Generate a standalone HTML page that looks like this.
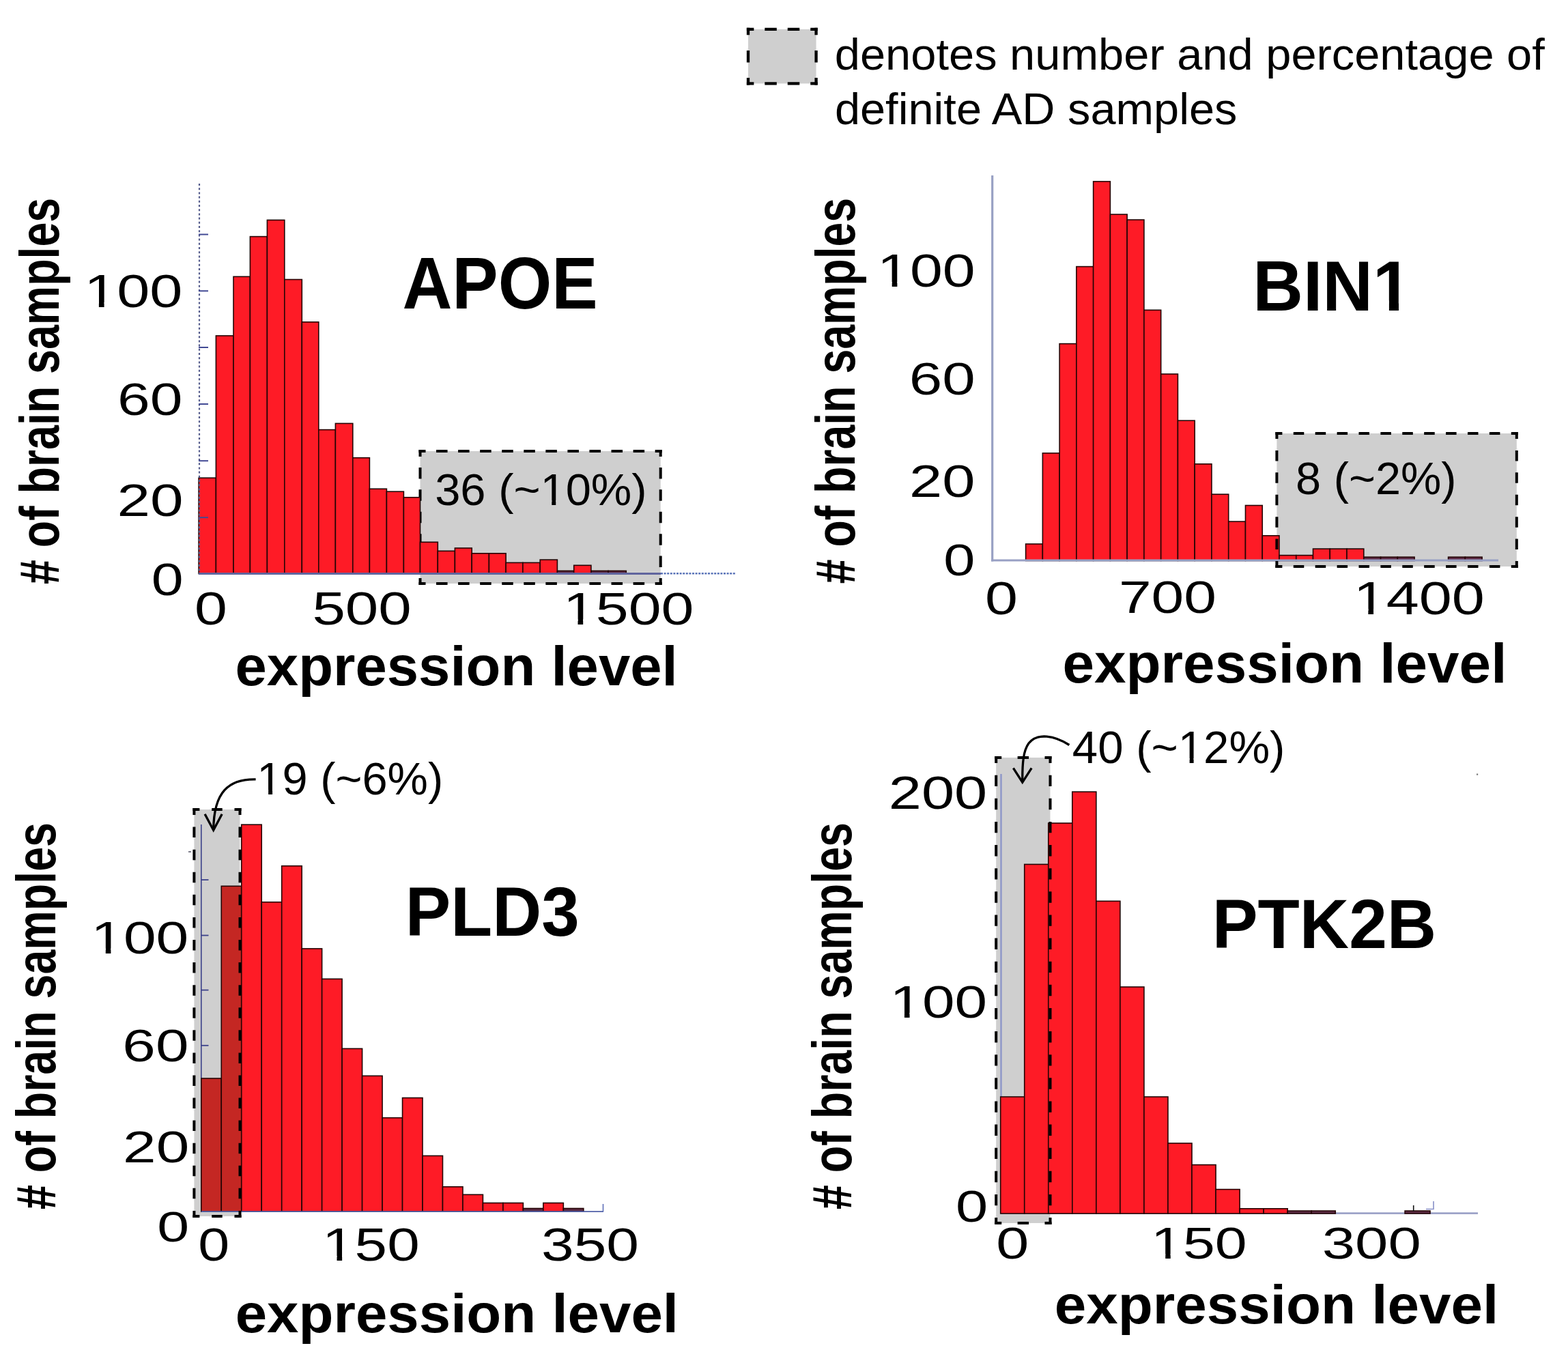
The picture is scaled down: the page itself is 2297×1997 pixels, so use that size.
<!DOCTYPE html>
<html><head><meta charset="utf-8"><title>Expression histograms</title>
<style>
html,body{margin:0;padding:0;background:#fff;}
svg{display:block;}
text{font-family:"Liberation Sans",Arial,sans-serif;font-size:100px;fill:#000;}
text.b{font-weight:bold;}
</style></head><body>
<svg width="2297" height="1997" viewBox="0 0 2297 1997">
<rect width="2297" height="1997" fill="#fff"/>
<rect x="1096.00" y="42.90" width="99.60" height="79.50" fill="#cfcfcf"/>
<line x1="1093.85" y1="42.90" x2="1197.75" y2="42.90" stroke="#000" stroke-width="4.3" stroke-dasharray="10.50 15.97 17.50 15.97 17.50 15.97 10.50 0.00"/>
<line x1="1093.85" y1="122.40" x2="1197.75" y2="122.40" stroke="#000" stroke-width="4.3" stroke-dasharray="10.50 15.97 17.50 15.97 17.50 15.97 10.50 0.00"/>
<line x1="1096.00" y1="40.75" x2="1096.00" y2="124.55" stroke="#000" stroke-width="4.3" stroke-dasharray="10.50 22.65 17.50 22.65 10.50 0.00"/>
<line x1="1195.60" y1="40.75" x2="1195.60" y2="124.55" stroke="#000" stroke-width="4.3" stroke-dasharray="10.50 22.65 17.50 22.65 10.50 0.00"/>
<rect x="615.50" y="661.00" width="352.20" height="194.00" fill="#cfcfcf"/>
<line x1="613.50" y1="661.00" x2="969.70" y2="661.00" stroke="#000" stroke-width="4" stroke-dasharray="10.00 15.56 16.50 15.56 16.50 15.56 16.50 15.56 16.50 15.56 16.50 15.56 16.50 15.56 16.50 15.56 16.50 15.56 16.50 15.56 16.50 15.56 10.00 0.00"/>
<line x1="613.50" y1="855.00" x2="969.70" y2="855.00" stroke="#000" stroke-width="4" stroke-dasharray="10.00 15.56 16.50 15.56 16.50 15.56 16.50 15.56 16.50 15.56 16.50 15.56 16.50 15.56 16.50 15.56 16.50 15.56 16.50 15.56 16.50 15.56 10.00 0.00"/>
<line x1="615.50" y1="659.00" x2="615.50" y2="857.00" stroke="#000" stroke-width="4" stroke-dasharray="10.00 15.92 16.50 15.92 16.50 15.92 16.50 15.92 16.50 15.92 16.50 15.92 10.00 0.00"/>
<line x1="967.70" y1="659.00" x2="967.70" y2="857.00" stroke="#000" stroke-width="4" stroke-dasharray="10.00 15.92 16.50 15.92 16.50 15.92 16.50 15.92 16.50 15.92 16.50 15.92 10.00 0.00"/>
<rect x="291.10" y="700.20" width="25.30" height="140.30" fill="#fe1b26" stroke="#250505" stroke-width="1.6"/>
<rect x="316.40" y="491.90" width="25.60" height="348.60" fill="#fe1b26" stroke="#250505" stroke-width="1.6"/>
<rect x="342.00" y="405.30" width="24.40" height="435.20" fill="#fe1b26" stroke="#250505" stroke-width="1.6"/>
<rect x="366.40" y="346.60" width="25.00" height="493.90" fill="#fe1b26" stroke="#250505" stroke-width="1.6"/>
<rect x="391.40" y="322.40" width="25.40" height="518.10" fill="#fe1b26" stroke="#250505" stroke-width="1.6"/>
<rect x="416.80" y="409.50" width="25.50" height="431.00" fill="#fe1b26" stroke="#250505" stroke-width="1.6"/>
<rect x="442.30" y="471.80" width="24.50" height="368.70" fill="#fe1b26" stroke="#250505" stroke-width="1.6"/>
<rect x="466.80" y="629.60" width="24.60" height="210.90" fill="#fe1b26" stroke="#250505" stroke-width="1.6"/>
<rect x="491.40" y="620.40" width="25.40" height="220.10" fill="#fe1b26" stroke="#250505" stroke-width="1.6"/>
<rect x="516.80" y="670.70" width="24.60" height="169.80" fill="#fe1b26" stroke="#250505" stroke-width="1.6"/>
<rect x="541.40" y="716.25" width="25.00" height="124.25" fill="#fe1b26" stroke="#250505" stroke-width="1.6"/>
<rect x="566.40" y="720.20" width="25.00" height="120.30" fill="#fe1b26" stroke="#250505" stroke-width="1.6"/>
<rect x="591.40" y="728.75" width="24.10" height="111.75" fill="#fe1b26" stroke="#250505" stroke-width="1.6"/>
<rect x="615.50" y="794.30" width="25.80" height="46.20" fill="#fe1b26" stroke="#250505" stroke-width="1.6"/>
<rect x="641.30" y="807.30" width="25.10" height="33.20" fill="#fe1b26" stroke="#250505" stroke-width="1.6"/>
<rect x="666.40" y="803.00" width="24.80" height="37.50" fill="#fe1b26" stroke="#250505" stroke-width="1.6"/>
<rect x="691.20" y="810.80" width="25.20" height="29.70" fill="#fe1b26" stroke="#250505" stroke-width="1.6"/>
<rect x="716.40" y="810.80" width="24.70" height="29.70" fill="#fe1b26" stroke="#250505" stroke-width="1.6"/>
<rect x="741.10" y="824.40" width="24.80" height="16.10" fill="#fe1b26" stroke="#250505" stroke-width="1.6"/>
<rect x="765.90" y="824.40" width="25.30" height="16.10" fill="#fe1b26" stroke="#250505" stroke-width="1.6"/>
<rect x="791.20" y="820.10" width="25.20" height="20.40" fill="#fe1b26" stroke="#250505" stroke-width="1.6"/>
<rect x="816.40" y="836.40" width="24.30" height="4.10" fill="#5c2a44" stroke="#250505" stroke-width="1.6"/>
<rect x="840.70" y="828.30" width="25.20" height="12.20" fill="#fe1b26" stroke="#250505" stroke-width="1.6"/>
<rect x="865.90" y="836.40" width="25.20" height="4.10" fill="#5c2a44" stroke="#250505" stroke-width="1.6"/>
<rect x="891.10" y="836.40" width="26.20" height="4.10" fill="#5c2a44" stroke="#250505" stroke-width="1.6"/>
<line x1="291" y1="840.5" x2="968" y2="840.5" stroke="#60659e" stroke-width="2.8"/>
<line x1="968" y1="840.2" x2="1077" y2="840.2" stroke="#5a74b8" stroke-width="2.6" stroke-dasharray="3 1.6"/>
<line x1="292" y1="269" x2="292" y2="841" stroke="#555c8c" stroke-width="2.2" stroke-dasharray="3 3.2"/>
<line x1="291" y1="343.5" x2="305" y2="343.5" stroke="#424a94" stroke-width="2"/>
<line x1="291" y1="426.3" x2="305" y2="426.3" stroke="#424a94" stroke-width="2"/>
<line x1="291" y1="509" x2="305" y2="509" stroke="#424a94" stroke-width="2"/>
<line x1="291" y1="592" x2="305" y2="592" stroke="#424a94" stroke-width="2"/>
<line x1="291" y1="675.2" x2="305" y2="675.2" stroke="#424a94" stroke-width="2"/>
<line x1="291" y1="758.2" x2="305" y2="758.2" stroke="#424a94" stroke-width="2"/>
<rect x="1870.40" y="635.00" width="351.40" height="195.00" fill="#cfcfcf"/>
<rect x="1502.60" y="797.00" width="24.76" height="24.50" fill="#fe1b26" stroke="#250505" stroke-width="1.6"/>
<rect x="1527.36" y="663.90" width="24.76" height="157.60" fill="#fe1b26" stroke="#250505" stroke-width="1.6"/>
<rect x="1552.12" y="503.60" width="24.76" height="317.90" fill="#fe1b26" stroke="#250505" stroke-width="1.6"/>
<rect x="1576.88" y="390.60" width="24.76" height="430.90" fill="#fe1b26" stroke="#250505" stroke-width="1.6"/>
<rect x="1601.64" y="265.90" width="24.76" height="555.60" fill="#fe1b26" stroke="#250505" stroke-width="1.6"/>
<rect x="1626.40" y="314.10" width="24.76" height="507.40" fill="#fe1b26" stroke="#250505" stroke-width="1.6"/>
<rect x="1651.16" y="322.00" width="24.76" height="499.50" fill="#fe1b26" stroke="#250505" stroke-width="1.6"/>
<rect x="1675.92" y="454.30" width="24.76" height="367.20" fill="#fe1b26" stroke="#250505" stroke-width="1.6"/>
<rect x="1700.68" y="548.00" width="24.76" height="273.50" fill="#fe1b26" stroke="#250505" stroke-width="1.6"/>
<rect x="1725.44" y="616.20" width="24.76" height="205.30" fill="#fe1b26" stroke="#250505" stroke-width="1.6"/>
<rect x="1750.20" y="679.80" width="24.76" height="141.70" fill="#fe1b26" stroke="#250505" stroke-width="1.6"/>
<rect x="1774.96" y="724.20" width="24.76" height="97.30" fill="#fe1b26" stroke="#250505" stroke-width="1.6"/>
<rect x="1799.72" y="764.10" width="24.76" height="57.40" fill="#fe1b26" stroke="#250505" stroke-width="1.6"/>
<rect x="1824.48" y="740.50" width="24.76" height="81.00" fill="#fe1b26" stroke="#250505" stroke-width="1.6"/>
<rect x="1849.24" y="784.80" width="24.76" height="36.70" fill="#fe1b26" stroke="#250505" stroke-width="1.6"/>
<rect x="1874.00" y="813.60" width="24.76" height="7.90" fill="#fe1b26" stroke="#250505" stroke-width="1.6"/>
<rect x="1898.76" y="813.60" width="24.76" height="7.90" fill="#fe1b26" stroke="#250505" stroke-width="1.6"/>
<rect x="1923.52" y="804.10" width="24.76" height="17.40" fill="#fe1b26" stroke="#250505" stroke-width="1.6"/>
<rect x="1948.28" y="804.10" width="24.76" height="17.40" fill="#fe1b26" stroke="#250505" stroke-width="1.6"/>
<rect x="1973.04" y="804.10" width="24.76" height="17.40" fill="#fe1b26" stroke="#250505" stroke-width="1.6"/>
<rect x="1997.80" y="816.20" width="24.76" height="5.30" fill="#5c2a44" stroke="#250505" stroke-width="1.6"/>
<rect x="2022.56" y="816.20" width="24.76" height="5.30" fill="#5c2a44" stroke="#250505" stroke-width="1.6"/>
<rect x="2047.32" y="816.20" width="24.76" height="5.30" fill="#5c2a44" stroke="#250505" stroke-width="1.6"/>
<rect x="2121.60" y="816.20" width="24.76" height="5.30" fill="#5c2a44" stroke="#250505" stroke-width="1.6"/>
<rect x="2146.36" y="816.20" width="24.76" height="5.30" fill="#5c2a44" stroke="#250505" stroke-width="1.6"/>
<line x1="1452" y1="821.0" x2="2195" y2="821.0" stroke="#98a0c4" stroke-width="3.2"/>
<line x1="1453.7" y1="257" x2="1453.7" y2="822.5" stroke="#98a0c4" stroke-width="3.2"/>
<line x1="1868.40" y1="635.00" x2="2223.80" y2="635.00" stroke="#000" stroke-width="4" stroke-dasharray="10.00 16.40 15.50 16.40 15.50 16.40 15.50 16.40 15.50 16.40 15.50 16.40 15.50 16.40 15.50 16.40 15.50 16.40 15.50 16.40 15.50 16.40 10.00 0.00"/>
<line x1="1868.40" y1="830.00" x2="2223.80" y2="830.00" stroke="#000" stroke-width="4" stroke-dasharray="10.00 16.40 15.50 16.40 15.50 16.40 15.50 16.40 15.50 16.40 15.50 16.40 15.50 16.40 15.50 16.40 15.50 16.40 15.50 16.40 15.50 16.40 10.00 0.00"/>
<line x1="1870.40" y1="633.00" x2="1870.40" y2="832.00" stroke="#000" stroke-width="4" stroke-dasharray="10.00 16.92 15.50 16.92 15.50 16.92 15.50 16.92 15.50 16.92 15.50 16.92 10.00 0.00"/>
<line x1="2221.80" y1="633.00" x2="2221.80" y2="832.00" stroke="#000" stroke-width="4" stroke-dasharray="10.00 16.92 15.50 16.92 15.50 16.92 15.50 16.92 15.50 16.92 15.50 16.92 10.00 0.00"/>
<rect x="284.40" y="1186.00" width="67.10" height="596.00" fill="#cfcfcf"/>
<line x1="294.8" y1="1208" x2="294.8" y2="1776" stroke="#3c428a" stroke-width="1.6"/>
<line x1="294.8" y1="1289.1" x2="305.5" y2="1289.1" stroke="#3c428a" stroke-width="1.8"/>
<line x1="294.8" y1="1370.5" x2="305.5" y2="1370.5" stroke="#3c428a" stroke-width="1.8"/>
<line x1="294.8" y1="1450.6" x2="305.5" y2="1450.6" stroke="#3c428a" stroke-width="1.8"/>
<line x1="294.8" y1="1531.8" x2="305.5" y2="1531.8" stroke="#3c428a" stroke-width="1.8"/>
<rect x="294.80" y="1580.00" width="29.47" height="195.20" fill="#c42723" stroke="#250505" stroke-width="1.6"/>
<rect x="324.27" y="1298.30" width="29.47" height="476.90" fill="#c42723" stroke="#250505" stroke-width="1.6"/>
<rect x="353.75" y="1208.20" width="29.47" height="567.00" fill="#fe1b26" stroke="#250505" stroke-width="1.6"/>
<rect x="383.22" y="1321.70" width="29.47" height="453.50" fill="#fe1b26" stroke="#250505" stroke-width="1.6"/>
<rect x="412.70" y="1268.70" width="29.47" height="506.50" fill="#fe1b26" stroke="#250505" stroke-width="1.6"/>
<rect x="442.17" y="1389.90" width="29.47" height="385.30" fill="#fe1b26" stroke="#250505" stroke-width="1.6"/>
<rect x="471.64" y="1434.30" width="29.47" height="340.90" fill="#fe1b26" stroke="#250505" stroke-width="1.6"/>
<rect x="501.12" y="1536.40" width="29.47" height="238.80" fill="#fe1b26" stroke="#250505" stroke-width="1.6"/>
<rect x="530.59" y="1576.30" width="29.47" height="198.90" fill="#fe1b26" stroke="#250505" stroke-width="1.6"/>
<rect x="560.07" y="1637.70" width="29.47" height="137.50" fill="#fe1b26" stroke="#250505" stroke-width="1.6"/>
<rect x="589.54" y="1608.50" width="29.47" height="166.70" fill="#fe1b26" stroke="#250505" stroke-width="1.6"/>
<rect x="619.01" y="1693.40" width="29.47" height="81.80" fill="#fe1b26" stroke="#250505" stroke-width="1.6"/>
<rect x="648.49" y="1738.80" width="29.47" height="36.40" fill="#fe1b26" stroke="#250505" stroke-width="1.6"/>
<rect x="677.96" y="1750.30" width="29.47" height="24.90" fill="#fe1b26" stroke="#250505" stroke-width="1.6"/>
<rect x="707.44" y="1762.50" width="29.47" height="12.70" fill="#fe1b26" stroke="#250505" stroke-width="1.6"/>
<rect x="736.91" y="1762.50" width="29.47" height="12.70" fill="#fe1b26" stroke="#250505" stroke-width="1.6"/>
<rect x="766.38" y="1770.50" width="29.47" height="4.70" fill="#5c2a44" stroke="#250505" stroke-width="1.6"/>
<rect x="795.86" y="1762.50" width="29.47" height="12.70" fill="#fe1b26" stroke="#250505" stroke-width="1.6"/>
<rect x="825.33" y="1770.50" width="29.47" height="4.70" fill="#5c2a44" stroke="#250505" stroke-width="1.6"/>
<line x1="294.8" y1="1775.2" x2="884" y2="1775.2" stroke="#5060a8" stroke-width="1.8"/>
<line x1="883.5" y1="1764" x2="883.5" y2="1775.2" stroke="#6070b8" stroke-width="1.6"/>
<line x1="276" y1="1248" x2="280" y2="1248" stroke="#556" stroke-width="1.5"/>
<line x1="282.40" y1="1186.00" x2="353.50" y2="1186.00" stroke="#000" stroke-width="4" stroke-dasharray="10.00 17.80 15.50 17.80 10.00 0.00"/>
<line x1="282.40" y1="1782.00" x2="353.50" y2="1782.00" stroke="#000" stroke-width="4" stroke-dasharray="10.00 17.80 15.50 17.80 10.00 0.00"/>
<line x1="284.40" y1="1184.00" x2="284.40" y2="1784.00" stroke="#000" stroke-width="4" stroke-dasharray="10.00 17.58 15.50 17.58 15.50 17.58 15.50 17.58 15.50 17.58 15.50 17.58 15.50 17.58 15.50 17.58 15.50 17.58 15.50 17.58 15.50 17.58 15.50 17.58 15.50 17.58 15.50 17.58 15.50 17.58 15.50 17.58 15.50 17.58 15.50 17.58 10.00 0.00"/>
<line x1="351.50" y1="1184.00" x2="351.50" y2="1784.00" stroke="#000" stroke-width="4" stroke-dasharray="10.00 17.58 15.50 17.58 15.50 17.58 15.50 17.58 15.50 17.58 15.50 17.58 15.50 17.58 15.50 17.58 15.50 17.58 15.50 17.58 15.50 17.58 15.50 17.58 15.50 17.58 15.50 17.58 15.50 17.58 15.50 17.58 15.50 17.58 15.50 17.58 10.00 0.00"/>
<path d="M374.6 1141.8 C335 1141 313 1160 312.7 1216" fill="none" stroke="#000" stroke-width="3.3"/>
<path d="M300.1 1192.8 L312.7 1216.3 L325.2 1192.8" fill="none" stroke="#000" stroke-width="3.3" stroke-linejoin="miter"/>
<rect x="1459.20" y="1110.00" width="79.30" height="682.00" fill="#cfcfcf"/>
<line x1="1466.5" y1="1134" x2="1466.5" y2="1778" stroke="#8c96c8" stroke-width="2.4"/>
<line x1="1466" y1="1777.6" x2="2165" y2="1777.6" stroke="#9da3c8" stroke-width="2.8"/>
<rect x="1465.70" y="1607.00" width="35.04" height="171.00" fill="#fe1b26" stroke="#250505" stroke-width="1.6"/>
<rect x="1500.74" y="1266.40" width="35.04" height="511.60" fill="#fe1b26" stroke="#250505" stroke-width="1.6"/>
<rect x="1535.78" y="1206.00" width="35.04" height="572.00" fill="#fe1b26" stroke="#250505" stroke-width="1.6"/>
<rect x="1570.82" y="1160.10" width="35.04" height="617.90" fill="#fe1b26" stroke="#250505" stroke-width="1.6"/>
<rect x="1605.86" y="1320.30" width="35.04" height="457.70" fill="#fe1b26" stroke="#250505" stroke-width="1.6"/>
<rect x="1640.90" y="1446.00" width="35.04" height="332.00" fill="#fe1b26" stroke="#250505" stroke-width="1.6"/>
<rect x="1675.94" y="1607.00" width="35.04" height="171.00" fill="#fe1b26" stroke="#250505" stroke-width="1.6"/>
<rect x="1710.98" y="1675.00" width="35.04" height="103.00" fill="#fe1b26" stroke="#250505" stroke-width="1.6"/>
<rect x="1746.02" y="1706.60" width="35.04" height="71.40" fill="#fe1b26" stroke="#250505" stroke-width="1.6"/>
<rect x="1781.06" y="1742.60" width="35.04" height="35.40" fill="#fe1b26" stroke="#250505" stroke-width="1.6"/>
<rect x="1816.10" y="1770.80" width="35.04" height="7.20" fill="#fe1b26" stroke="#250505" stroke-width="1.6"/>
<rect x="1851.14" y="1770.80" width="35.04" height="7.20" fill="#fe1b26" stroke="#250505" stroke-width="1.6"/>
<rect x="1886.18" y="1774.10" width="35.04" height="3.90" fill="#5c2a44" stroke="#250505" stroke-width="1.6"/>
<rect x="1921.22" y="1774.10" width="35.04" height="3.90" fill="#5c2a44" stroke="#250505" stroke-width="1.6"/>
<rect x="2058.10" y="1774.10" width="36.90" height="3.90" fill="#5c2a44" stroke="#250505" stroke-width="1.6"/>
<line x1="2070.7" y1="1766" x2="2070.7" y2="1775" stroke="#111" stroke-width="1.6"/>
<path d="M2089 1771.5 L2100 1771.5 L2100 1760" fill="none" stroke="#8890c8" stroke-width="1.6"/>
<line x1="1457.20" y1="1110.00" x2="1540.50" y2="1110.00" stroke="#000" stroke-width="4" stroke-dasharray="10.00 23.45 16.40 23.45 10.00 0.00"/>
<line x1="1457.20" y1="1792.00" x2="1540.50" y2="1792.00" stroke="#000" stroke-width="4" stroke-dasharray="10.00 23.45 16.40 23.45 10.00 0.00"/>
<line x1="1459.20" y1="1108.00" x2="1459.20" y2="1794.00" stroke="#000" stroke-width="4" stroke-dasharray="10.00 17.72 16.40 17.72 16.40 17.72 16.40 17.72 16.40 17.72 16.40 17.72 16.40 17.72 16.40 17.72 16.40 17.72 16.40 17.72 16.40 17.72 16.40 17.72 16.40 17.72 16.40 17.72 16.40 17.72 16.40 17.72 16.40 17.72 16.40 17.72 16.40 17.72 16.40 17.72 10.00 0.00"/>
<line x1="1538.50" y1="1108.00" x2="1538.50" y2="1794.00" stroke="#000" stroke-width="4" stroke-dasharray="10.00 17.72 16.40 17.72 16.40 17.72 16.40 17.72 16.40 17.72 16.40 17.72 16.40 17.72 16.40 17.72 16.40 17.72 16.40 17.72 16.40 17.72 16.40 17.72 16.40 17.72 16.40 17.72 16.40 17.72 16.40 17.72 16.40 17.72 16.40 17.72 16.40 17.72 16.40 17.72 10.00 0.00"/>
<path d="M1566.4 1091.5 C1545 1078 1520 1073 1507 1089 C1499 1100 1497.5 1118 1497.8 1146" fill="none" stroke="#000" stroke-width="3.3"/>
<path d="M1484.4 1125.3 L1497.8 1146.2 L1511.2 1125.3" fill="none" stroke="#000" stroke-width="3.3"/>
<rect x="2163" y="1133.5" width="2.2" height="2.2" fill="#777"/>
<text class="n" transform="translate(1222.78 102.44) scale(0.6682 0.6503)">denotes number and percentage of</text>
<text class="n" transform="translate(1222.89 182.45) scale(0.6672 0.6545)">definite AD samples</text>
<text class="b" transform="translate(589.39 452.12) scale(1.0106 1.0761)">APOE</text>
<text class="b" transform="translate(86.47 855.91) rotate(-90) scale(0.6447 0.8203)"># of brain samples</text>
<g transform="translate(123.17 450.32) scale(0.8649 0.6761)"><text class="n">100</text><rect x="5.40" y="-10.80" width="19.70" height="13.00" fill="#fff"/><rect x="34.00" y="-10.80" width="18.90" height="13.00" fill="#fff"/></g>
<text class="n" transform="translate(172.03 607.73) scale(0.8579 0.6704)">60</text>
<text class="n" transform="translate(171.50 756.33) scale(0.8731 0.6732)">20</text>
<text class="n" transform="translate(221.71 872.13) scale(0.8432 0.6662)">0</text>
<text class="n" transform="translate(284.94 914.72) scale(0.8599 0.6817)">0</text>
<text class="n" transform="translate(457.38 914.72) scale(0.8716 0.6817)">500</text>
<g transform="translate(824.91 914.53) scale(0.8610 0.6746)"><text class="n">1500</text><rect x="5.40" y="-10.80" width="19.70" height="13.00" fill="#fff"/><rect x="34.00" y="-10.80" width="18.90" height="13.00" fill="#fff"/></g>
<text class="b" transform="translate(344.54 1004.04) scale(0.8331 0.8075)">expression level</text>
<g transform="translate(637.18 740.24) scale(0.6689 0.6563)"><text class="n">36 (~10%)</text><rect x="236.11" y="-10.80" width="19.70" height="13.00" fill="#cfcfcf"/><rect x="264.71" y="-10.80" width="18.90" height="13.00" fill="#cfcfcf"/></g>
<g transform="translate(1835.26 454.80) scale(1.0211 1.0406)"><text class="b">BIN1</text><rect x="176.31" y="-13.80" width="19.20" height="16.00" fill="#fff"/><rect x="209.31" y="-13.80" width="17.90" height="16.00" fill="#fff"/></g>
<text class="b" transform="translate(1252.36 855.31) rotate(-90) scale(0.6441 0.8160)"># of brain samples</text>
<g transform="translate(1285.12 420.32) scale(0.8603 0.6761)"><text class="n">100</text><rect x="5.40" y="-10.80" width="19.70" height="13.00" fill="#fff"/><rect x="34.00" y="-10.80" width="18.90" height="13.00" fill="#fff"/></g>
<text class="n" transform="translate(1331.76 577.63) scale(0.8716 0.6662)">60</text>
<text class="n" transform="translate(1332.03 727.94) scale(0.8672 0.6648)">20</text>
<text class="n" transform="translate(1382.26 842.95) scale(0.8286 0.6451)">0</text>
<text class="n" transform="translate(1442.93 899.52) scale(0.8620 0.6845)">0</text>
<text class="n" transform="translate(1638.90 898.33) scale(0.8580 0.6704)">700</text>
<g transform="translate(1982.68 899.52) scale(0.8638 0.6845)"><text class="n">1400</text><rect x="5.40" y="-10.80" width="19.70" height="13.00" fill="#fff"/><rect x="34.00" y="-10.80" width="18.90" height="13.00" fill="#fff"/></g>
<text class="b" transform="translate(1556.43 999.94) scale(0.8366 0.8075)">expression level</text>
<text class="n" transform="translate(1898.09 724.23) scale(0.6671 0.6665)">8 (~2%)</text>
<text class="b" transform="translate(593.72 1370.58) scale(0.9979 1.0211)">PLD3</text>
<text class="b" transform="translate(80.97 1772.01) rotate(-90) scale(0.6458 0.8203)"># of brain samples</text>
<g transform="translate(133.24 1396.73) scale(0.8577 0.6732)"><text class="n">100</text><rect x="5.40" y="-10.80" width="19.70" height="13.00" fill="#fff"/><rect x="34.00" y="-10.80" width="18.90" height="13.00" fill="#fff"/></g>
<text class="n" transform="translate(179.35 1554.93) scale(0.8726 0.6746)">60</text>
<text class="n" transform="translate(180.10 1703.35) scale(0.8741 0.6451)">20</text>
<text class="n" transform="translate(230.31 1818.57) scale(0.8432 0.6310)">0</text>
<text class="n" transform="translate(290.37 1847.32) scale(0.8265 0.6831)">0</text>
<g transform="translate(472.07 1847.32) scale(0.8551 0.6831)"><text class="n">150</text><rect x="5.40" y="-10.80" width="19.70" height="13.00" fill="#fff"/><rect x="34.00" y="-10.80" width="18.90" height="13.00" fill="#fff"/></g>
<text class="n" transform="translate(792.94 1847.32) scale(0.8577 0.6831)">350</text>
<text class="b" transform="translate(344.64 1952.40) scale(0.8346 0.8000)">expression level</text>
<g transform="translate(376.37 1164.33) scale(0.6679 0.6676)"><text class="n">19 (~6%)</text><rect x="5.40" y="-10.80" width="19.70" height="13.00" fill="#fff"/><rect x="34.00" y="-10.80" width="18.90" height="13.00" fill="#fff"/></g>
<text class="b" transform="translate(1775.69 1389.00) scale(1.0023 1.0246)">PTK2B</text>
<text class="b" transform="translate(1246.59 1772.01) rotate(-90) scale(0.6458 0.8150)"># of brain samples</text>
<text class="n" transform="translate(1301.74 1184.62) scale(0.8657 0.6775)">200</text>
<g transform="translate(1303.47 1491.03) scale(0.8551 0.6746)"><text class="n">100</text><rect x="5.40" y="-10.80" width="19.70" height="13.00" fill="#fff"/><rect x="34.00" y="-10.80" width="18.90" height="13.00" fill="#fff"/></g>
<text class="n" transform="translate(1399.98 1790.35) scale(0.8495 0.6465)">0</text>
<text class="n" transform="translate(1459.22 1844.25) scale(0.8641 0.6479)">0</text>
<g transform="translate(1686.09 1844.25) scale(0.8427 0.6479)"><text class="n">150</text><rect x="5.40" y="-10.80" width="19.70" height="13.00" fill="#fff"/><rect x="34.00" y="-10.80" width="18.90" height="13.00" fill="#fff"/></g>
<text class="n" transform="translate(1936.69 1844.25) scale(0.8697 0.6479)">300</text>
<text class="b" transform="translate(1544.73 1939.40) scale(0.8361 0.8000)">expression level</text>
<g transform="translate(1570.86 1118.33) scale(0.6715 0.6704)"><text class="n">40 (~12%)</text><rect x="236.11" y="-10.80" width="19.70" height="13.00" fill="#fff"/><rect x="264.71" y="-10.80" width="18.90" height="13.00" fill="#fff"/></g>
</svg>
</body></html>
